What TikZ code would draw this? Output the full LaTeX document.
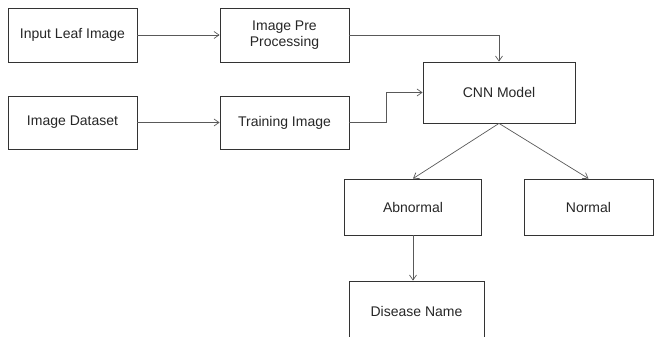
\documentclass[tikz,border=0pt]{standalone}
\usepackage{fontspec}
\setmainfont{Liberation Sans}
\usetikzlibrary{arrows.meta}
\begin{document}
\begin{tikzpicture}[x=1pt,y=-1pt,
  box/.style={draw=black!80, line width=0.8pt, rectangle, align=center,
    font=\fontsize{14}{16}\selectfont, text=black!85, inner sep=0pt},
  conn/.style={draw=black!65, line width=0.7pt, -{Straight Barb[length=5pt,width=7pt]}}]
\useasboundingbox (0,0) rectangle (654,337);
\node[box, minimum width=129, minimum height=54] (inp) at (72.5,35) {Input Leaf Image};
\node[box, minimum width=129, minimum height=54] (pre) at (284.5,35) {Image Pre\\Processing};
\node[box, minimum width=129, minimum height=53] (ds) at (72.5,122.5) {Image Dataset};
\node[box, minimum width=129, minimum height=53] (tr) at (284.5,122.5) {Training Image};
\node[box, minimum width=152, minimum height=61] (cnn) at (499,92.5) {CNN Model};
\node[box, minimum width=137, minimum height=56] (ab) at (413,207) {Abnormal};
\node[box, minimum width=129, minimum height=56] (no) at (588.5,207) {Normal};
\node[box, minimum width=135, minimum height=60] (dis) at (416.5,311) {Disease Name};
\draw[conn] (inp.east) -- (pre.west);
\draw[conn] (ds.east) -- (tr.west);
\draw[conn] (pre.east) -| (cnn.north);
\draw[conn] (tr.east) -- ++(37,0) |- (cnn.west);
\draw[conn] (cnn.south) -- (ab.north);
\draw[conn] (cnn.south) -- (no.north);
\draw[conn] (ab.south) -- (ab.south |- dis.north);
\end{tikzpicture}
\end{document}
